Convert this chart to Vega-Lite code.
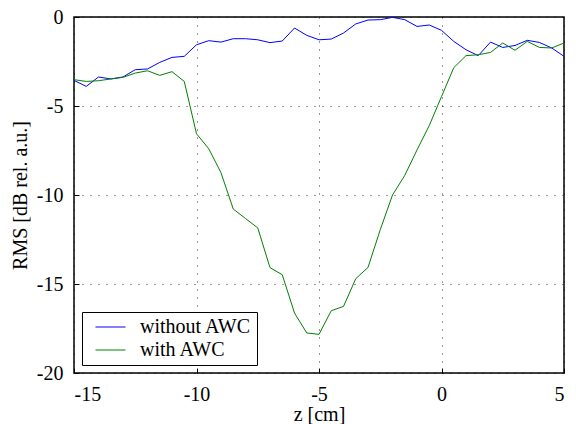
{
  "$schema": "https://vega.github.io/schema/vega-lite/v6.json",
  "width": 490,
  "height": 356,
  "autosize": "none",
  "padding": {"left": 74, "top": 17, "right": 12, "bottom": 51},
  "background": "white",
  "config": {
    "font": "Liberation Serif",
    "view": {"stroke": "black", "strokeWidth": 1.5},
    "axis": {
      "labelFont": "Liberation Serif",
      "titleFont": "Liberation Serif",
      "labelFontSize": 20,
      "titleFontSize": 20,
      "titleFontWeight": "normal",
      "labelColor": "black",
      "titleColor": "black",
      "grid": true,
      "gridColor": "black",
      "gridDash": [1, 7],
      "gridOpacity": 0.8,
      "domain": false,
      "tickColor": "black",
      "tickSize": -5,
      "labelPadding": 16,
      "labelExpr": "replace(datum.label, '\u2212', '-')"
    },
    "legend": {
      "labelFont": "Liberation Serif",
      "labelFontSize": 20,
      "labelColor": "black"
    }
  },
  "datasets": {
    "rms": [
      {"z": -15, "v": -3.56, "s": "without AWC"},
      {"z": -14.5, "v": -3.9, "s": "without AWC"},
      {"z": -14, "v": -3.37, "s": "without AWC"},
      {"z": -13.5, "v": -3.48, "s": "without AWC"},
      {"z": -13, "v": -3.37, "s": "without AWC"},
      {"z": -12.5, "v": -2.96, "s": "without AWC"},
      {"z": -12, "v": -2.92, "s": "without AWC"},
      {"z": -11.5, "v": -2.55, "s": "without AWC"},
      {"z": -11, "v": -2.27, "s": "without AWC"},
      {"z": -10.5, "v": -2.21, "s": "without AWC"},
      {"z": -10, "v": -1.56, "s": "without AWC"},
      {"z": -9.5, "v": -1.33, "s": "without AWC"},
      {"z": -9, "v": -1.41, "s": "without AWC"},
      {"z": -8.5, "v": -1.22, "s": "without AWC"},
      {"z": -8, "v": -1.22, "s": "without AWC"},
      {"z": -7.5, "v": -1.28, "s": "without AWC"},
      {"z": -7, "v": -1.44, "s": "without AWC"},
      {"z": -6.5, "v": -1.35, "s": "without AWC"},
      {"z": -6, "v": -0.62, "s": "without AWC"},
      {"z": -5.5, "v": -1.03, "s": "without AWC"},
      {"z": -5, "v": -1.28, "s": "without AWC"},
      {"z": -4.5, "v": -1.24, "s": "without AWC"},
      {"z": -4, "v": -0.9, "s": "without AWC"},
      {"z": -3.5, "v": -0.39, "s": "without AWC"},
      {"z": -3, "v": -0.17, "s": "without AWC"},
      {"z": -2.5, "v": -0.15, "s": "without AWC"},
      {"z": -2, "v": -0.02, "s": "without AWC"},
      {"z": -1.5, "v": -0.15, "s": "without AWC"},
      {"z": -1, "v": -0.53, "s": "without AWC"},
      {"z": -0.5, "v": -0.45, "s": "without AWC"},
      {"z": 0, "v": -0.75, "s": "without AWC"},
      {"z": 0.5, "v": -1.37, "s": "without AWC"},
      {"z": 1, "v": -1.84, "s": "without AWC"},
      {"z": 1.5, "v": -2.17, "s": "without AWC"},
      {"z": 2, "v": -1.41, "s": "without AWC"},
      {"z": 2.5, "v": -1.71, "s": "without AWC"},
      {"z": 3, "v": -1.6, "s": "without AWC"},
      {"z": 3.5, "v": -1.31, "s": "without AWC"},
      {"z": 4, "v": -1.43, "s": "without AWC"},
      {"z": 4.5, "v": -1.74, "s": "without AWC"},
      {"z": 5, "v": -2.21, "s": "without AWC"},
      {"z": -15, "v": -3.52, "s": "with AWC"},
      {"z": -14.5, "v": -3.62, "s": "with AWC"},
      {"z": -14, "v": -3.58, "s": "with AWC"},
      {"z": -13.5, "v": -3.48, "s": "with AWC"},
      {"z": -13, "v": -3.39, "s": "with AWC"},
      {"z": -12.5, "v": -3.15, "s": "with AWC"},
      {"z": -12, "v": -3.02, "s": "with AWC"},
      {"z": -11.5, "v": -3.28, "s": "with AWC"},
      {"z": -11, "v": -3.07, "s": "with AWC"},
      {"z": -10.5, "v": -3.62, "s": "with AWC"},
      {"z": -10, "v": -6.56, "s": "with AWC"},
      {"z": -9.5, "v": -7.4, "s": "with AWC"},
      {"z": -9, "v": -8.75, "s": "with AWC"},
      {"z": -8.5, "v": -10.79, "s": "with AWC"},
      {"z": -8, "v": -11.32, "s": "with AWC"},
      {"z": -7.5, "v": -11.85, "s": "with AWC"},
      {"z": -7, "v": -14.08, "s": "with AWC"},
      {"z": -6.5, "v": -14.48, "s": "with AWC"},
      {"z": -6, "v": -16.63, "s": "with AWC"},
      {"z": -5.5, "v": -17.75, "s": "with AWC"},
      {"z": -5, "v": -17.83, "s": "with AWC"},
      {"z": -4.5, "v": -16.5, "s": "with AWC"},
      {"z": -4, "v": -16.26, "s": "with AWC"},
      {"z": -3.5, "v": -14.7, "s": "with AWC"},
      {"z": -3, "v": -14.07, "s": "with AWC"},
      {"z": -2.5, "v": -11.95, "s": "with AWC"},
      {"z": -2, "v": -10.0, "s": "with AWC"},
      {"z": -1.5, "v": -8.9, "s": "with AWC"},
      {"z": -1, "v": -7.47, "s": "with AWC"},
      {"z": -0.5, "v": -6.1, "s": "with AWC"},
      {"z": 0, "v": -4.47, "s": "with AWC"},
      {"z": 0.5, "v": -2.85, "s": "with AWC"},
      {"z": 1, "v": -2.17, "s": "with AWC"},
      {"z": 1.5, "v": -2.12, "s": "with AWC"},
      {"z": 2, "v": -1.99, "s": "with AWC"},
      {"z": 2.5, "v": -1.46, "s": "with AWC"},
      {"z": 3, "v": -1.87, "s": "with AWC"},
      {"z": 3.5, "v": -1.37, "s": "with AWC"},
      {"z": 4, "v": -1.71, "s": "with AWC"},
      {"z": 4.5, "v": -1.74, "s": "with AWC"},
      {"z": 5, "v": -1.46, "s": "with AWC"}
    ]
  },
  "data": {"name": "rms"},
  "mark": {"type": "line", "strokeWidth": 1, "clip": true},
  "encoding": {
    "x": {
      "field": "z",
      "type": "quantitative",
      "scale": {"domain": [-15, 5], "nice": false, "zero": false},
      "axis": {"values": [-15, -10, -5, 0, 5], "title": "z [cm]", "titlePadding": 0}
    },
    "y": {
      "field": "v",
      "type": "quantitative",
      "scale": {"domain": [-20, 0], "nice": false},
      "axis": {"values": [-20, -15, -10, -5, 0], "title": "RMS [dB rel. a.u.]", "titlePadding": 6}
    },
    "color": {
      "field": "s",
      "type": "nominal",
      "scale": {"domain": ["without AWC", "with AWC"], "range": ["#0000ff", "#008000"]},
      "legend": {
        "title": null,
        "orient": "bottom-left",
        "offset": 8,
        "symbolType": "M-2,0H2",
        "symbolSize": 225,
        "symbolStrokeWidth": 1,
        "symbolFillColor": "transparent",
        "symbolOffset": 13.5,
        "strokeColor": "black",
        "fillColor": "white",
        "padding": 5,
        "rowPadding": 3,
        "labelOffset": 19.5
      }
    }
  }
}
